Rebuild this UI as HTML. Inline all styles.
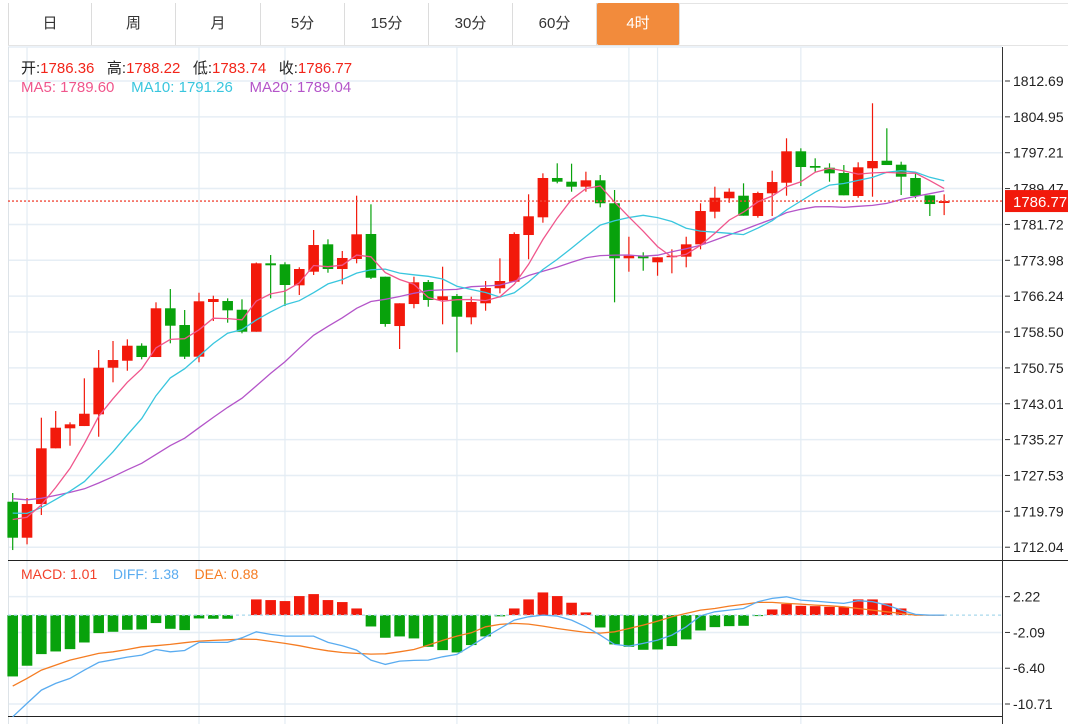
<!DOCTYPE html>
<html><head><meta charset="utf-8"><style>
html,body{margin:0;padding:0;background:#fff;}
body{width:1068px;height:724px;overflow:hidden;position:relative;font-family:"Liberation Sans","Noto Sans CJK SC",sans-serif;}
.tab{position:absolute;top:3px;height:42px;line-height:42px;text-align:center;font-size:15px;color:#333;border-right:1px solid #dcdcdc;box-sizing:border-box;background:#fff;}
.tab.active{background:#f28b3c;color:#fff;border-radius:2px;}
</style></head><body>
<div style="position:absolute;left:8px;top:3px;width:1060px;height:43px;border-top:1px solid #e4e4e4;border-bottom:1px solid #e4e4e4;box-sizing:border-box;"></div>
<div class="tab" style="left:8px;width:84px;border-left:1px solid #dcdcdc;">日</div>
<div class="tab" style="left:92px;width:84px;">周</div>
<div class="tab" style="left:176px;width:85px;">月</div>
<div class="tab" style="left:261px;width:84px;">5分</div>
<div class="tab" style="left:345px;width:84px;">15分</div>
<div class="tab" style="left:429px;width:84px;">30分</div>
<div class="tab" style="left:513px;width:84px;">60分</div>
<div class="tab active" style="left:597px;width:83px;">4时</div>
<svg id="chart" width="1068" height="724" style="position:absolute;left:0;top:0;" xmlns="http://www.w3.org/2000/svg"></svg>
<script>
const opens=[1721.86,1714.09,1721.36,1733.39,1737.71,1738.20,1740.73,1750.79,1752.30,1755.54,1753.10,1763.62,1760.01,1753.17,1764.98,1765.19,1763.31,1758.56,1773.33,1773.12,1768.58,1771.52,1777.43,1772.10,1774.26,1779.66,1770.44,1759.79,1764.54,1769.29,1765.41,1766.27,1761.67,1764.70,1767.94,1769.36,1779.44,1783.26,1791.75,1790.95,1789.87,1791.25,1786.29,1774.41,1774.97,1773.55,1774.76,1774.76,1777.43,1784.47,1787.37,1787.93,1783.54,1788.44,1790.73,1797.51,1794.34,1793.97,1792.83,1787.86,1793.84,1795.48,1794.62,1791.75,1788.01,1786.36];
const highs=[1723.74,1722.66,1740.00,1741.44,1739.00,1748.50,1754.61,1756.56,1756.92,1756.06,1764.91,1767.78,1763.25,1766.98,1766.34,1765.77,1765.56,1773.50,1775.12,1773.55,1772.47,1780.52,1778.51,1775.99,1787.93,1786.07,1770.44,1764.70,1770.44,1769.73,1772.60,1766.70,1766.13,1769.51,1774.41,1780.02,1788.23,1792.76,1794.92,1794.84,1793.11,1792.40,1789.16,1779.07,1775.71,1774.63,1776.35,1779.07,1786.29,1789.87,1789.52,1790.60,1788.79,1793.32,1800.32,1798.16,1796.00,1794.92,1794.55,1795.14,1807.88,1802.48,1795.27,1792.76,1788.01,1788.22];
const lows=[1711.43,1712.66,1718.99,1733.39,1733.95,1738.20,1735.89,1747.64,1750.14,1752.60,1753.10,1756.06,1752.67,1751.96,1760.87,1760.51,1758.22,1758.56,1765.77,1764.11,1766.49,1770.81,1771.30,1768.80,1773.33,1769.94,1759.64,1754.83,1763.62,1763.96,1760.16,1754.12,1760.16,1763.10,1766.85,1769.36,1774.20,1782.10,1790.60,1788.79,1788.79,1785.42,1764.91,1771.52,1771.73,1770.65,1771.17,1772.47,1776.35,1783.05,1786.41,1783.61,1783.18,1783.54,1787.93,1790.02,1793.11,1790.95,1788.01,1787.49,1787.71,1794.55,1788.08,1787.37,1783.54,1783.74];
const closes=[1714.09,1721.36,1733.39,1737.84,1738.57,1740.86,1750.79,1752.45,1755.54,1753.10,1763.62,1759.86,1753.17,1765.13,1765.62,1763.18,1758.56,1773.33,1772.90,1768.65,1772.10,1777.28,1772.10,1774.48,1779.59,1770.22,1760.23,1764.70,1769.23,1765.41,1766.21,1761.80,1764.98,1768.00,1769.51,1779.66,1783.48,1791.75,1790.95,1789.87,1791.25,1786.29,1774.41,1774.97,1774.41,1774.63,1774.97,1777.43,1784.62,1787.49,1788.79,1783.61,1788.51,1790.88,1797.51,1794.12,1793.97,1792.76,1788.01,1794.06,1795.42,1794.55,1792.03,1787.86,1786.13,1786.77];
const priorCloses=[1726,1727,1725,1726,1725,1726,1725,1726,1725,1725,1722,1721,1720,1721,1720,1719,1720,1719,1718];
const diffVals=[-12.25,-10.64,-9.04,-8.23,-7.63,-6.63,-5.70,-5.38,-5.06,-4.82,-4.14,-4.42,-4.26,-3.29,-3.29,-3.29,-2.73,-2.01,-2.33,-2.53,-2.53,-2.53,-3.29,-3.69,-4.22,-5.42,-5.94,-5.54,-5.46,-5.42,-5.02,-4.74,-3.69,-2.61,-1.61,-0.60,-0.20,0,-0.12,-0.60,-1.41,-2.41,-3.53,-3.73,-3.41,-3.01,-2.41,-1.41,-0.08,0.40,0.60,0.80,1.61,2.01,2.21,1.81,1.69,1.53,1.41,1.73,1.61,1.20,0.60,0.08,0,0];
const deaVals=[-8.55,-7.63,-6.63,-6.02,-5.42,-5.02,-4.62,-4.42,-4.14,-3.82,-3.69,-3.53,-3.33,-3.13,-3.05,-2.97,-2.89,-2.93,-3.17,-3.41,-3.69,-4.02,-4.30,-4.50,-4.62,-4.70,-4.66,-4.42,-4.14,-3.61,-3.05,-2.53,-2.13,-1.41,-1.12,-1.00,-1.08,-1.33,-1.61,-1.85,-2.09,-2.17,-2.01,-1.61,-1.20,-0.72,-0.20,0.20,0.60,0.80,1.08,1.29,1.53,1.53,1.41,1.33,1.20,1.12,1.00,0.80,0.60,0.40,0.20,0,0,0];
const macdVals=[-7.39,-6.10,-4.70,-4.38,-4.10,-3.30,-2.17,-2.01,-1.77,-1.73,-0.96,-1.65,-1.81,-0.40,-0.44,-0.44,0,1.89,1.81,1.69,2.29,2.53,1.81,1.57,0.80,-1.37,-2.73,-2.57,-2.81,-3.82,-4.22,-4.50,-3.61,-2.57,-0.15,0.80,1.89,2.73,2.29,1.49,0.32,-1.49,-3.53,-3.82,-4.18,-4.14,-3.73,-2.93,-1.85,-1.45,-1.33,-1.29,-0.12,0.68,1.33,1.12,1.08,1.00,1.00,1.89,1.89,1.41,0.80,0,0,0];
const priceTicks=["1812.69","1804.95","1797.21","1789.47","1781.72","1773.98","1766.24","1758.50","1750.75","1743.01","1735.27","1727.53","1719.79","1712.04"];
const macdTicks=["2.22","-2.09","-6.40","-10.71"];
const gridCandles=[1,13,19,31,43,45,55];

const NS="http://www.w3.org/2000/svg";
const svg=document.getElementById('chart');
function mk(tag,attrs,parent){const e=document.createElementNS(NS,tag);for(const k in attrs)e.setAttribute(k,attrs[k]);(parent||svg).appendChild(e);return e;}
const xOf=i=>12.7+14.33*i;
const yP=p=>81+(1812.69-p)*4.632;
const yM=v=>615.1-v*8.30;
const AX=1002;
const RED="#f2190b",GREEN="#08a20c";

for(const t of priceTicks){const y=yP(+t);
const g=mk('line',{x1:8,x2:AX,y1:y,y2:y,stroke:'#e6eef5','stroke-width':1.5});

}
for(const t of macdTicks){const y=yM(+t);
const g=mk('line',{x1:8,x2:AX,y1:y,y2:y,stroke:'#e6eef5','stroke-width':1.5});

}
for(const c of gridCandles){const x=xOf(c);
const g=mk('line',{x1:x,x2:x,y1:47,y2:724,stroke:'#e3ecf3','stroke-width':1.2});

}
mk('line',{x1:8,x2:AX,y1:47,y2:47,stroke:'#e6eef5','stroke-width':1.5});
mk('line',{x1:8.5,x2:8.5,y1:47,y2:724,stroke:'#dde3e8','stroke-width':1});
mk('line',{x1:8,x2:1068,y1:560.5,y2:560.5,stroke:'#222','stroke-width':1});
mk('line',{x1:8,x2:AX,y1:716.5,y2:716.5,stroke:'#222','stroke-width':1});
mk('line',{x1:AX+0.5,x2:AX+0.5,y1:47,y2:724,stroke:'#333','stroke-width':1});

function ma(n){const all=priorCloses.concat(closes),off=priorCloses.length;return closes.map((c,i)=>{let s=0;for(let k=0;k<n;k++)s+=all[off+i-k];return s/n;});}
function drawLine(vals,yf,color,name,w){const d=vals.map((v,i)=>(i?'L':'M')+xOf(i).toFixed(1)+' '+yf(v).toFixed(1)).join(' ');
const p=mk('path',{d:d,fill:'none',stroke:color,'stroke-width':w||1.3});

}

closes.forEach((c,i)=>{const o=opens[i],up=c>=o,col=up?RED:GREEN,x=xOf(i);
const g=mk('g',{});


mk('line',{x1:x,x2:x,y1:yP(highs[i]),y2:yP(lows[i]),stroke:col,'stroke-width':1.2},g);
const t=yP(Math.max(o,c)),b=yP(Math.min(o,c));
mk('rect',{x:x-5.3,y:t,width:10.6,height:Math.max(1.5,b-t),fill:col},g);});

drawLine(ma(20),yP,'#b455c9','ma20-line');
drawLine(ma(10),yP,'#39c6de','ma10-line');
drawLine(ma(5),yP,'#f0568c','ma5-line');

const lc=closes[closes.length-1],ly=yP(lc);
const dl=mk('line',{x1:8,x2:AX,y1:ly,y2:ly,stroke:'#f04a3a','stroke-width':1.3,'stroke-dasharray':'2 2'});



// MACD
macdVals.forEach((h,i)=>{if(h===0)return;const x=xOf(i),y0=yM(0),y1=yM(h);
const r=mk('rect',{x:x-5.3,y:Math.min(y0,y1),width:10.6,height:Math.max(1,Math.abs(y1-y0)),fill:h>=0?RED:GREEN});

});
const z=mk('line',{x1:8,x2:AX,y1:yM(0),y2:yM(0),stroke:'#a8d8ec','stroke-width':1.3,'stroke-dasharray':'3 3'});


drawLine(deaVals,yM,'#f57c22','dea-line');
drawLine(diffVals,yM,'#5aacf0','diff-line');

function axisLabels(ticks,yf,name){for(const t of ticks){const y=yf(+t);
mk('line',{x1:AX+3,x2:AX+8,y1:y,y2:y,stroke:'#333','stroke-width':1});
const tx=mk('text',{x:AX+11,y:y+5,'font-size':14,fill:'#222','font-family':'Liberation Sans, sans-serif'});
tx.textContent=t;

}}
axisLabels(priceTicks,yP,'price-tick-label');
axisLabels(macdTicks,yM,'macd-tick-label');
const bx=mk('rect',{x:AX+3,y:ly-11,width:63,height:22,fill:'#f2190b'});


const bt=mk('text',{x:AX+11,y:ly+6,'font-size':15,fill:'#fff','font-family':'Liberation Sans, sans-serif'});
bt.textContent=lc.toFixed(2);


</script>
<div style="position:absolute;left:21px;top:57px;font-size:15px;color:#222;white-space:nowrap;">开:<span style="color:#f2251a">1786.36</span>&nbsp;&nbsp; 高:<span style="color:#f2251a">1788.22</span>&nbsp;&nbsp; 低:<span style="color:#f2251a">1783.74</span>&nbsp;&nbsp; 收:<span style="color:#f2251a">1786.77</span></div>
<div style="position:absolute;left:21px;top:79px;font-size:15px;white-space:nowrap;"><span style="color:#f0568c">MA5: 1789.60</span>&nbsp;&nbsp;&nbsp; <span style="color:#39c6de">MA10: 1791.26</span>&nbsp;&nbsp;&nbsp; <span style="color:#b455c9">MA20: 1789.04</span></div>
<div style="position:absolute;left:21px;top:566px;font-size:14px;white-space:nowrap;"><span style="color:#f2402a">MACD: 1.01</span>&nbsp;&nbsp;&nbsp; <span style="color:#5aacf0">DIFF: 1.38</span>&nbsp;&nbsp;&nbsp; <span style="color:#f57c22">DEA: 0.88</span></div>
</body></html>
